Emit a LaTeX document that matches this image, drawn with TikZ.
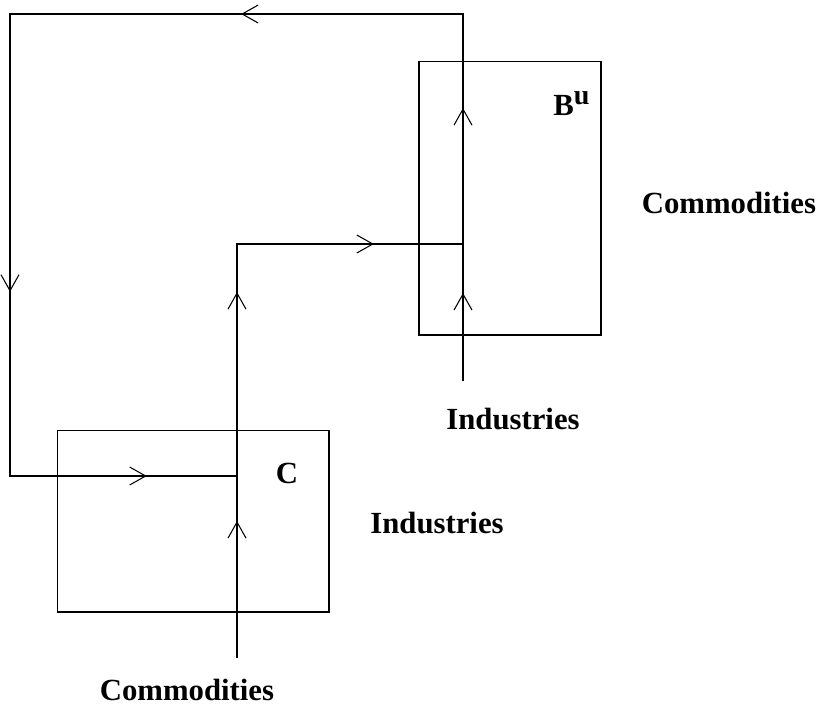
\documentclass[tikz,border=0pt]{standalone}
\usepackage{fontspec}
\setmainfont{Liberation Serif}
\usetikzlibrary{arrows.meta,decorations.markings}

\tikzset{
  box/.style={draw, inner sep=0pt, line width=0.6pt},
  flow/.style={line width=0.6pt},
  lbl/.style={font=\fontsize{17.5}{20}\selectfont\bfseries, inner sep=0pt},
  barb/.tip={Straight Barb[length=0.32cm, width=0.36cm, line width=0.6pt]}
}

\begin{document}
\begin{tikzpicture}[x=0.02cm, y=-0.02cm]
  \useasboundingbox (0,0) rectangle (822,708);

  % the two tables
  \node[box, minimum width=5.44cm, minimum height=3.64cm] (tabC) at (193,521) {};
  \node[box, minimum width=3.64cm, minimum height=5.48cm] (tabB) at (510,198) {};

  % labels
  \node[lbl] (nameC) at (287,473) {C};
  \node[lbl, anchor=base west] (nameB) at (553,115) {B\raisebox{0.75ex}{\fontsize{16}{18}\selectfont u}};
  \node[lbl] (indC) at (437,523) {Industries};
  \node[lbl] (comC) at (187,690) {Commodities};
  \node[lbl] (indB) at (513,419) {Industries};
  \node[lbl] (comB) at (729,203) {Commodities};

  % points of the flows
  \coordinate (c0) at (237,658);
  \coordinate (c1) at (237,244);
  \coordinate (b0) at (463,381);
  \coordinate (b1) at (463,244);
  \coordinate (b2) at (463,14);
  \coordinate (l0) at (10,14);
  \coordinate (l1) at (10,476);
  \coordinate (c2) at (237,476);

  % flow through C into B
  \draw[flow, postaction={decorate, decoration={markings,
      mark=at position 2.74cm with {\arrow{barb}},
      mark=at position 7.32cm with {\arrow{barb}},
      mark=at position 11.02cm with {\arrow{barb}}}}]
    (c0) -- (c1) -- (b1);

  % flow through B and back round to C
  \draw[flow, postaction={decorate, decoration={markings,
      mark=at position 1.76cm with {\arrow{barb}},
      mark=at position 5.46cm with {\arrow{barb}},
      mark=at position 11.78cm with {\arrow{barb}},
      mark=at position 21.96cm with {\arrow{barb}},
      mark=at position 28.38cm with {\arrow{barb}}}}]
    (b0) -- (b2) -- (l0) -- (l1) -- (c2);
\end{tikzpicture}
\end{document}
